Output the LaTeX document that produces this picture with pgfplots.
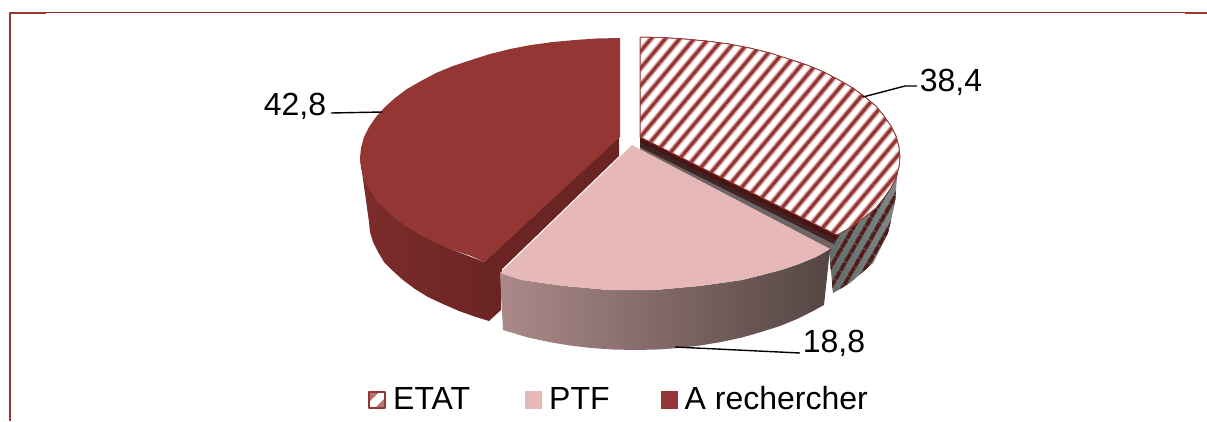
\documentclass[border=0pt]{standalone}
\usepackage{pgfplots}
\pgfplotsset{compat=1.18}
\usepackage{fontspec}
\setmainfont{Liberation Sans}
\usetikzlibrary{patterns.meta}
\definecolor{aRed}{HTML}{943634}
\definecolor{ptfPink}{HTML}{E6B9B8}
\definecolor{stripeSoft}{HTML}{DDB4B3}
\definecolor{ptfL}{HTML}{AB8A88}
\definecolor{ptfR}{HTML}{544543}
\definecolor{aWallL}{HTML}{7C2C2B}
\definecolor{aWallR}{HTML}{6A2424}
\definecolor{etatGrayA}{HTML}{5E6B6B}
\definecolor{etatGrayB}{HTML}{7E8A8A}
\definecolor{etatSoft}{HTML}{584444}
\definecolor{etatDark}{HTML}{521818}
\definecolor{cutA}{HTML}{4A1414}
\definecolor{cutB}{HTML}{402525}
\definecolor{cutC}{HTML}{706464}
\begin{document}
\begin{tikzpicture}
\begin{axis}[
  scale only axis, width=1207pt, height=421pt,
  xmin=0, xmax=1207, ymin=0, ymax=421, y dir=reverse,
  axis lines=none, clip=true, no markers,
  every axis plot/.append style={line join=round},
]
\path (axis cs:0,0) rectangle (axis cs:1207,421);
% frame
\addplot[draw=aRed, line width=2pt, forget plot] coordinates {(10,421) (10,13) (46,13)};
\addplot[draw=aRed, line width=1pt, forget plot] coordinates {(46,12.5) (1185,12.5)};
\addplot[draw=aRed, line width=2pt, forget plot] coordinates {(1185,13) (1207,13)};
% A rechercher: wall
\addplot[draw=none, left color=aWallL, right color=aWallR, forget plot] coordinates {
(360,158) (364,179) (376,199) (395,218) (421,235) (453,250) (484,262) (502,268) (501,310) (489,321)
(476,317) (459,311) (443,304) (428,297) (415,289) (403,280) (393,271) (384,262) (378,252) (373,242) (370,232) (369,222)
} --cycle;
\addplot[draw=none, fill=aWallR, forget plot] coordinates {(484,262) (619,137) (619,156) (499,272) (490,275)} --cycle;
% A rechercher: top
\addplot[draw=none, fill=aRed, forget plot] coordinates {
(620,38) (597,38.5) (575,40) (553,42) (531,45) (510,49) (490,54) (471,60) (453,66) (436,73) (421,81) (407,89)
(395,98) (385,107) (376,117) (369,127) (364,137) (361,148) (360,158) (361,168) (364,179) (369,189) (376,199) (385,209)
(395,218) (407,227) (421,235) (436,243) (453,250) (471,256) (484,262) (620,137)
} --cycle;
% ETAT: outer wall
\addplot[draw=none, left color=etatGrayA, right color=etatGrayB, forget plot] coordinates {
(837,235) (839,234) (853,226) (865,217) (876,208) (884,198) (891,188) (896,178) (898,170)
(897,177) (895,203) (888,233) (873,263) (850,283) (833,293) (829,250)
} --cycle;
\addplot[draw=none, pattern={Lines[angle=60,distance=10.5pt,line width=6pt]}, pattern color=etatSoft, forget plot] coordinates {
(837,235) (839,234) (853,226) (865,217) (876,208) (884,198) (891,188) (896,178) (898,170)
(897,177) (895,203) (888,233) (873,263) (850,283) (833,293) (829,250)
} --cycle;
\addplot[draw=none, pattern={Lines[angle=60,distance=10.5pt,line width=3.5pt]}, pattern color=etatDark, forget plot] coordinates {
(837,235) (839,234) (853,226) (865,217) (876,208) (884,198) (891,188) (896,178) (898,170)
(897,177) (895,203) (888,233) (873,263) (850,283) (833,293) (829,250)
} --cycle;
% ETAT: cut wall
\addplot[draw=none, fill=cutC, forget plot] coordinates {(640,137) (837,235) (832,250) (640,150)} --cycle;
\addplot[draw=none, fill=cutB, forget plot] coordinates {(640,137) (837,235) (834,244) (640,147)} --cycle;
\addplot[draw=none, fill=cutA, forget plot] coordinates {(640,137) (837,235) (836,240) (640,142)} --cycle;
% ETAT: top
\addplot[draw=aRed, line width=0.5pt, fill=white,
  postaction={pattern={Lines[angle=50,distance=11pt,line width=6pt]}, pattern color=stripeSoft},
  postaction={pattern={Lines[angle=50,distance=11pt,line width=3.2pt]}, pattern color=aRed}, forget plot] coordinates {
(640,37) (663,37.5) (685,39) (707,41) (729,44) (750,48) (770,53) (789,59) (807,65) (824,72) (839,80) (853,88)
(865,97) (876,106) (884,116) (891,126) (896,136) (899,147) (900,157) (899,167) (896,178) (891,188) (884,198) (876,208)
(865,217) (853,226) (839,234) (837,235) (640,137)
} --cycle;
% PTF: wall
\addplot[draw=none, left color=ptfL, right color=ptfR, forget plot] coordinates {
(500,273) (522,280) (543,283) (565,286) (587,288) (609,290) (632,290) (655,290) (677,288) (699,286) (721,283) (742,280)
(762,275) (781,270) (799,264) (816,257) (830,249)
(824,305) (813,311) (797,319) (780,326) (761,332) (742,337.5) (721,342) (700,345.5) (679,348) (657,349.5) (635,350)
(613,349.5) (591,348) (570,345.5) (549,342) (528,337.5) (503,330)
} --cycle;
% PTF: top
\addplot[draw=none, fill=ptfPink, forget plot] coordinates {
(632,145) (500,273) (522,280) (543,283) (565,286) (587,288) (609,290) (632,290) (655,290) (677,288) (699,286) (721,283) (742,280)
(762,275) (781,270) (799,264) (816,257) (830,249)
} --cycle;
% leader lines
\addplot[draw=black, line width=1.4pt, forget plot] coordinates {(863,97) (905,86) (917,86)};
\addplot[draw=black, line width=1.4pt, forget plot] coordinates {(331,113) (382,112)};
\addplot[draw=black, line width=1.4pt, forget plot] coordinates {(675,347) (800,353)};
% legend swatches
\addplot[draw=aRed, line width=2pt, fill=white, forget plot] coordinates {(369,392) (385,392) (385,408) (369,408)} --cycle;
\addplot[draw=none, fill=aRed!70, forget plot] coordinates {(370,393) (378,393) (370,401)} --cycle;
\addplot[draw=none, fill=aRed!70, forget plot] coordinates {(384,399) (384,407) (376,407)} --cycle;
\addplot[draw=none, fill=ptfPink, forget plot] coordinates {(525,391) (542,391) (542,409) (525,409)} --cycle;
\addplot[draw=none, fill=aRed, forget plot] coordinates {(661,391) (678,391) (678,409) (661,409)} --cycle;
% labels
\node[anchor=base, inner sep=0pt, font=\fontsize{32}{38}\selectfont] at (axis cs:951,91) {38,4};
\node[anchor=base, inner sep=0pt, font=\fontsize{32}{38}\selectfont] at (axis cs:295,115) {42,8};
\node[anchor=base, inner sep=0pt, font=\fontsize{32}{38}\selectfont] at (axis cs:834,352) {18,8};
\node[anchor=base west, inner sep=0pt, font=\fontsize{32}{38}\selectfont] at (axis cs:393,409.5) {ETAT};
\node[anchor=base west, inner sep=0pt, font=\fontsize{32}{38}\selectfont] at (axis cs:549,409.5) {PTF};
\node[anchor=base west, inner sep=0pt, font=\fontsize{32}{38}\selectfont] at (axis cs:684.5,409.5) {A rechercher};
\end{axis}
\end{tikzpicture}
\end{document}
